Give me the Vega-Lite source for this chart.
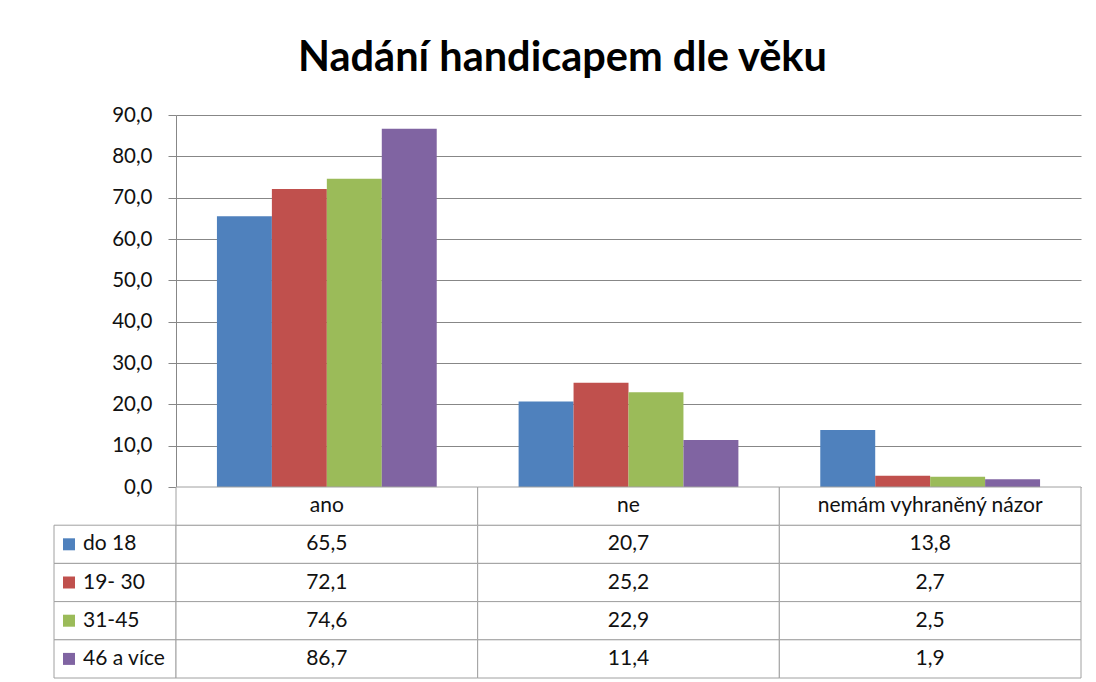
{
  "$schema": "https://vega.github.io/schema/vega-lite/v6.json",
  "background": "white",
  "padding": {"left": 53, "top": 37, "right": 10, "bottom": 4},
  "title": {"text": "Nadání handicapem dle věku", "font": "Lato", "fontSize": 41.5, "fontWeight": "bold", "color": "#000000", "anchor": "middle", "offset": 26, "dx": -5},
  "config": {
    "view": {"stroke": null},
    "font": "Lato",
    "locale": {"number": {"decimal": ",", "thousands": " ", "grouping": [3], "currency": ["", " Kč"]}}
  },
  "datasets": {
    "main": [
      {"cat": "ano", "series": "do 18", "value": 65.5},
      {"cat": "ano", "series": "19- 30", "value": 72.1},
      {"cat": "ano", "series": "31-45", "value": 74.6},
      {"cat": "ano", "series": "46 a více", "value": 86.7},
      {"cat": "ne", "series": "do 18", "value": 20.7},
      {"cat": "ne", "series": "19- 30", "value": 25.2},
      {"cat": "ne", "series": "31-45", "value": 22.9},
      {"cat": "ne", "series": "46 a více", "value": 11.4},
      {"cat": "nemám vyhraněný názor", "series": "do 18", "value": 13.8},
      {"cat": "nemám vyhraněný názor", "series": "19- 30", "value": 2.7},
      {"cat": "nemám vyhraněný názor", "series": "31-45", "value": 2.5},
      {"cat": "nemám vyhraněný názor", "series": "46 a více", "value": 1.9}
    ]
  },
  "columns": 2,
  "spacing": 0,
  "bounds": "flush",
  "concat": [
    {
      "width": 122,
      "height": 372,
      "data": {"values": []},
      "mark": "point",
      "encoding": {}
    },
    {
      "width": 905,
      "height": 372,
      "data": {"name": "main"},
      "mark": {"type": "bar"},
      "encoding": {
        "x": {"field": "cat", "type": "nominal", "scale": {"domain": ["ano", "ne", "nemám vyhraněný názor"], "paddingInner": 0, "paddingOuter": 0}, "axis": null},
        "xOffset": {"field": "series", "type": "nominal", "scale": {"domain": ["do 18", "19- 30", "31-45", "46 a více"], "paddingInner": 0, "paddingOuter": 0.745}},
        "y": {
          "field": "value", "type": "quantitative",
          "scale": {"domain": [0, 90], "nice": false},
          "axis": {"title": null, "tickCount": 9, "format": ".1f", "grid": true, "gridColor": "#878787", "domainColor": "#878787", "tickColor": "#878787", "tickSize": 8, "labelPadding": 16, "labelFontSize": 20.5, "labelColor": "#111111", "labelFont": "Lato"}
        },
        "color": {"field": "series", "type": "nominal", "scale": {"domain": ["do 18", "19- 30", "31-45", "46 a více"], "range": ["#4F81BD", "#C0504D", "#9BBB59", "#8064A2"]}, "legend": null}
      }
    },
    {
      "width": 122,
      "height": 191,
      "data": {"name": "main"},
      "transform": [{"filter": "datum.cat === 'ano'"}],
      "encoding": {
        "y": {"field": "series", "type": "nominal", "scale": {"domain": ["hdr", "do 18", "19- 30", "31-45", "46 a více"], "paddingInner": 0, "paddingOuter": 0}, "axis": null}
      },
      "layer": [
        {"mark": {"type": "rect", "fill": "white", "stroke": "#a0a0a0", "strokeWidth": 1}},
        {
          "mark": {"type": "point", "shape": "square", "filled": true, "size": 144, "opacity": 1, "xOffset": -46},
          "encoding": {
            "color": {"field": "series", "type": "nominal", "scale": {"domain": ["do 18", "19- 30", "31-45", "46 a více"], "range": ["#4F81BD", "#C0504D", "#9BBB59", "#8064A2"]}, "legend": null}
          }
        },
        {
          "mark": {"type": "text", "align": "left", "dx": -32, "fontSize": 21, "color": "#111111", "font": "Lato"},
          "encoding": {"text": {"field": "series"}}
        }
      ]
    },
    {
      "width": 905,
      "height": 191,
      "data": {"name": "main"},
      "encoding": {
        "x": {"field": "cat", "type": "nominal", "scale": {"domain": ["ano", "ne", "nemám vyhraněný názor"], "paddingInner": 0, "paddingOuter": 0}, "axis": null}
      },
      "layer": [
        {
          "mark": {"type": "rect", "fill": "white", "stroke": "#a0a0a0", "strokeWidth": 1},
          "encoding": {"y": {"field": "series", "type": "nominal", "scale": {"domain": ["hdr", "do 18", "19- 30", "31-45", "46 a více"], "paddingInner": 0, "paddingOuter": 0}, "axis": null}}
        },
        {
          "transform": [{"aggregate": [{"op": "count", "as": "n"}], "groupby": ["cat"]}],
          "mark": {"type": "rect", "fill": "white", "stroke": "#a0a0a0", "strokeWidth": 1},
          "encoding": {"y": {"datum": "hdr", "type": "nominal"}}
        },
        {
          "mark": {"type": "text", "fontSize": 21, "color": "#111111", "font": "Lato"},
          "encoding": {
            "y": {"field": "series", "type": "nominal"},
            "text": {"field": "value", "type": "quantitative", "format": ".1f"}
          }
        },
        {
          "transform": [{"aggregate": [{"op": "count", "as": "n"}], "groupby": ["cat"]}],
          "mark": {"type": "text", "fontSize": 21, "color": "#111111", "font": "Lato"},
          "encoding": {
            "y": {"datum": "hdr", "type": "nominal"},
            "text": {"field": "cat", "type": "nominal"}
          }
        }
      ]
    }
  ]
}
